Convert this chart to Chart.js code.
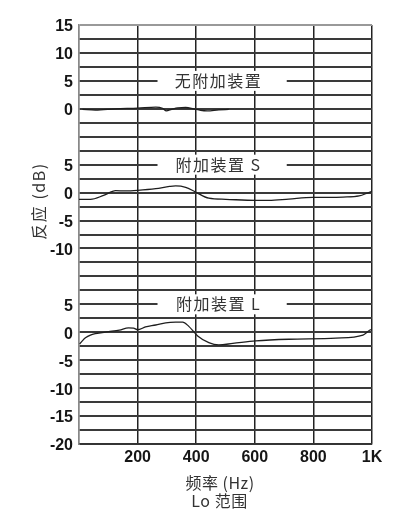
<!DOCTYPE html>
<html><head><meta charset="utf-8">
<script src="https://cdn.jsdelivr.net/npm/chart.js@4/dist/chart.umd.min.js"></script>
<style>html,body{margin:0;padding:0;background:#fff;overflow:hidden}</style>
</head><body>
<canvas id="c" width="399" height="522"></canvas>
<script>
// ---- data ----
const freqNone = [12, 56, 125, 200, 262, 285, 298, 316, 337, 364, 391, 415, 438, 477, 511];
const respNone = [-0.12, -0.23, 0, 0.12, 0.3, 0.1, -0.36, -0.1, 0.18, 0.23, 0, -0.27, -0.36, -0.18, -0.12];

const freqS = [0, 39, 84, 125, 159, 200, 262, 309, 330, 364, 398, 443, 501, 603, 648, 716, 798, 853, 901, 956, 993, 1000];
const respS = [-1.2, -1.2, -0.5, 0.35, 0.3, 0.4, 0.7, 1.1, 1.2, 0.95, 0.1, -1.0, -1.2, -1.4, -1.4, -1.15, -0.85, -0.85, -0.8, -0.6, 0.1, 0.2];

const freqL = [2, 12, 22, 39, 56, 101, 138, 169, 186, 200, 227, 262, 296, 330, 354, 374, 405, 443, 477, 525, 603, 716, 877, 969, 993, 1000];
const respL = [-2.1, -1.5, -1.0, -0.5, -0.25, 0.1, 0.4, 0.8, 0.75, 0.45, 0.95, 1.3, 1.7, 1.8, 1.8, 1.1, -0.65, -1.85, -2.25, -2.0, -1.55, -1.25, -1.05, -0.5, 0.4, 0.5];

const sectionOffsets = [0, -15, -40];
const sectionLabels = ["无附加装置", "附加装置 S", "附加装置 L"];

const xTickValues = [0, 200, 400, 600, 800, 1000];
const xTickLabels = ["", "200", "400", "600", "800", "1K"];
const yTickValues = [15, 10, 5, 0, -10, -15, -20, -25, -35, -40, -45, -50, -55, -60];
const yTickLabels = ["15", "10", "5", "0", "5", "0", "-5", "-10", "5", "0", "-5", "-10", "-15", "-20"];
const xTitle = ["频率 (Hz)", "Lo 范围"];
const yTitle = "反应 (dB)";

// ---- build ----
const series = [[freqNone, respNone], [freqS, respS], [freqL, respL]];
const datasets = series.map((s, i) => ({
  data: s[0].map((f, k) => ({ x: f, y: s[1][k] + sectionOffsets[i] })),
  borderColor: '#1e1e1e', borderWidth: 1.3, pointRadius: 0,
  cubicInterpolationMode: 'monotone', fill: false
}));

const labelRows = [5, -10, -35];
const CJK = '"Noto Sans CJK SC", "Noto Sans", sans-serif';
const overlay = {
  id: 'overlay',
  beforeDatasetsDraw(chart) {
    const { ctx, scales: { x, y } } = chart;
    ctx.save();
    sectionLabels.forEach((t, i) => {
      const yc = y.getPixelForValue(labelRows[i]);
      const x0 = x.getPixelForValue(268), x1 = x.getPixelForValue(709);
      ctx.fillStyle = '#fff';
      ctx.fillRect(x0, yc - 10, x1 - x0, 20);
      ctx.fillStyle = '#333';
      ctx.font = '16px ' + CJK;
      ctx.letterSpacing = '1.5px';
      ctx.textAlign = 'center';
      ctx.textBaseline = 'middle';
      ctx.fillText(t, x.getPixelForValue(473) + 1, yc);
    });
    ctx.restore();
  },
  afterDraw(chart) {
    const { ctx } = chart;
    ctx.save();
    ctx.fillStyle = '#333';
    ctx.font = '16px ' + CJK;
    ctx.textAlign = 'center';
    ctx.textBaseline = 'middle';
    ctx.letterSpacing = '0.5px';
    ctx.fillText(xTitle[0], 220, 483);
    ctx.fillText(xTitle[1], 219.5, 501);
    ctx.translate(38.5, 201);
    ctx.rotate(-Math.PI / 2);
    ctx.letterSpacing = '1.5px';
    ctx.fillText(yTitle, 0, 0);
    ctx.restore();
  }
};

const tickFont = { family: '"Liberation Sans", Arial, sans-serif', size: 16, weight: 'bold' };

new Chart(document.getElementById('c'), {
  type: 'line',
  data: { datasets },
  plugins: [overlay],
  options: {
    responsive: false, animation: false, devicePixelRatio: 1,
    layout: { padding: { left: 0, right: 27, top: 25, bottom: 0 } },
    plugins: { legend: { display: false }, tooltip: { enabled: false } },
    scales: {
      x: {
        type: 'linear', min: 0, max: 1000,
        afterBuildTicks: s => { s.ticks = xTickValues.map(v => ({ value: v })); },
        afterFit: s => { s.height = 78; },
        ticks: {
          autoSkip: false, maxRotation: 0, padding: 4, color: '#161616', font: tickFont,
          callback: v => { const i = xTickValues.indexOf(v); return i >= 0 ? xTickLabels[i] : ''; }
        },
        grid: { drawTicks: false, lineWidth: 1.5, color: c => c.index === 0 ? '#888' : '#222' },
        border: { display: true, color: '#333', width: 1.5 }
      },
      y: {
        type: 'linear', min: -60, max: 15,
        afterBuildTicks: s => {
          const t = [];
          for (let v = -60; v <= 15; v += 2.5) t.push({ value: v });
          s.ticks = t;
        },
        afterFit: s => { s.width = 79; },
        ticks: {
          autoSkip: false, padding: 6, labelOffset: 2, color: '#161616', font: tickFont,
          callback: v => { const i = yTickValues.indexOf(v); return i >= 0 ? yTickLabels[i] : ''; }
        },
        grid: { drawTicks: false, lineWidth: 2, color: c => (c.tick && c.tick.value === 15) ? '#999' : '#3a3a3a' },
        border: { display: true, color: '#888', width: 1.5 }
      }
    }
  }
});
</script>
</body></html>
